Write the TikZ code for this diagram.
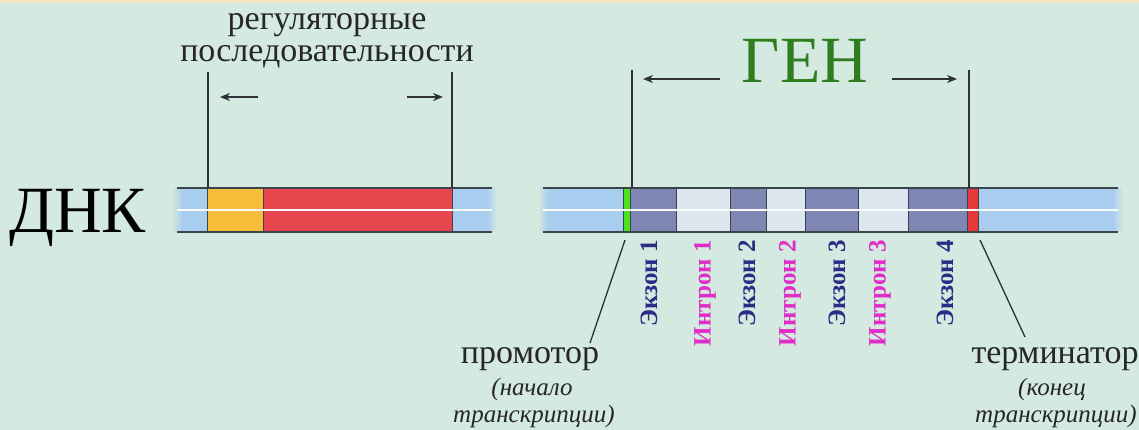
\documentclass[tikz,border=0pt]{standalone}
\usepackage{fontspec}
\setmainfont{Liberation Serif}
\usepackage{xcolor}
\usetikzlibrary{arrows.meta}
\definecolor{bgmint}{HTML}{D4E9DF}
\definecolor{topband}{HTML}{EFE7C6}
\definecolor{ink}{HTML}{2E3236}
\definecolor{edgegray}{HTML}{3C434B}
\definecolor{dnablue}{HTML}{A9CDEE}
\definecolor{regorange}{HTML}{F7BE3C}
\definecolor{regred}{HTML}{E8464E}
\definecolor{exonfill}{HTML}{7E86B4}
\definecolor{intronfill}{HTML}{DDE6EE}
\definecolor{promgreen}{HTML}{4CE21E}
\definecolor{termred}{HTML}{E63A3A}
\definecolor{genegreen}{HTML}{2E7D1E}
\definecolor{exontext}{HTML}{2B2C86}
\definecolor{introntext}{HTML}{E02CC8}
\tikzset{
  mark line/.style={line width=1.3pt,ink},
  span arrow/.style={line width=1.3pt,ink,-{Stealth[length=10pt,width=8pt]}},
  strand edge/.style={line width=2pt,edgegray},
  strand mid/.style={line width=1.6pt,white!95!dnablue},
  seg border/.style={line width=1pt,edgegray},
  big/.style={font=\fontsize{66}{66}\selectfont},
  lbltext/.style={font=\fontsize{34}{34}\selectfont,text=black!85},
  notetext/.style={font=\fontsize{25}{25}\selectfont\itshape,text=black!85},
  parttext/.style={font=\fontsize{25}{25}\selectfont\bfseries,rotate=90,anchor=east,inner sep=0pt}
}
% one block of the strand: left, right, fill colour
\newcommand{\block}[3]{\fill[#3] (#1,188) rectangle (#2,232); \draw[seg border] (#1,188) -- (#1,232) (#2,188) -- (#2,232);}
% rotated label under the gene: name, x, colour, text
\newcommand{\partlbl}[4]{\node[parttext,text=#3] (#1) at (#2,240) {#4};}

\begin{document}
\begin{tikzpicture}[x=1pt,y=-1pt]
\useasboundingbox (0,0) rectangle (1139,430);
\fill[bgmint] (0,0) rectangle (1139,430);
\fill[topband] (0,0) rectangle (1139,3);

% left strand
\fill[dnablue] (177,188) rectangle (492,232);
\shade[left color=bgmint,right color=dnablue] (172,188) rectangle (182,232);
\shade[left color=dnablue,right color=bgmint] (487,188) rectangle (497,232);
\block{207}{263}{regorange}
\block{263}{452}{regred}
\draw[strand mid] (177,210) -- (492,210);
\draw[strand edge] (177,188) -- (492,188) (177,232) -- (492,232);

% right strand
\fill[dnablue] (543,188) rectangle (1118,232);
\shade[left color=bgmint,right color=dnablue] (538,188) rectangle (548,232);
\shade[left color=dnablue,right color=bgmint] (1113,188) rectangle (1123,232);
\block{623}{630}{promgreen}
\block{630}{676}{exonfill}
\block{676}{730}{intronfill}
\block{730}{766}{exonfill}
\block{766}{805}{intronfill}
\block{805}{858}{exonfill}
\block{858}{908}{intronfill}
\block{908}{967}{exonfill}
\block{967}{978}{termred}
\draw[strand mid] (543,210) -- (1118,210);
\draw[strand edge] (543,188) -- (1118,188) (543,232) -- (1118,232);

% texts
\node[big,anchor=base west,inner sep=0pt] (dna) at (9,233) {ДНК};
\node[lbltext,anchor=base] (reg1) at (327,30) {регуляторные};
\node[lbltext,anchor=base] (reg2) at (327,62) {последовательности};
\node[font=\fontsize{66}{66}\selectfont,text=genegreen,anchor=base] (gene) at (805,83) {ГЕН};

% regulatory span
\coordinate (regLtop) at (208,72);
\coordinate (regLbot) at (208,188);
\coordinate (regRtop) at (452,72);
\coordinate (regRbot) at (452,188);
\draw[mark line] (regLtop) -- (regLbot);
\draw[mark line] (regRtop) -- (regRbot);
\coordinate (regLa) at (258,97);
\coordinate (regLb) at (220,97);
\coordinate (regRa) at (407,97);
\coordinate (regRb) at (443,97);
\draw[span arrow] (regLa) -- (regLb);
\draw[span arrow] (regRa) -- (regRb);

% gene span
\coordinate (geneLtop) at (632,70);
\coordinate (geneLbot) at (632,188);
\coordinate (geneRtop) at (969,70);
\coordinate (geneRbot) at (969,188);
\draw[mark line] (geneLtop) -- (geneLbot);
\draw[mark line] (geneRtop) -- (geneRbot);
\coordinate (geneLa) at (720,79);
\coordinate (geneLb) at (643,79);
\coordinate (geneRa) at (892,79);
\coordinate (geneRb) at (957,79);
\draw[span arrow] (geneLa) -- (geneLb);
\draw[span arrow] (geneRa) -- (geneRb);

% exons and introns
\partlbl{ex1}{649}{exontext}{Экзон 1}
\partlbl{in1}{705}{introntext}{Интрон 1}
\partlbl{ex2}{747}{exontext}{Экзон 2}
\partlbl{in2}{790}{introntext}{Интрон 2}
\partlbl{ex3}{837}{exontext}{Экзон 3}
\partlbl{in3}{880}{introntext}{Интрон 3}
\partlbl{ex4}{945}{exontext}{Экзон 4}

% promoter and terminator
\node[lbltext,anchor=base] (prom) at (530,363) {промотор};
\node[notetext,anchor=base] (prom1) at (532,395) {(начало};
\node[notetext,anchor=base] (prom2) at (534,422) {транскрипции)};
\node[lbltext,anchor=base] (term) at (1055,363) {терминатор};
\node[notetext,anchor=base] (term1) at (1052,395) {(конец};
\node[notetext,anchor=base] (term2) at (1056,422) {транскрипции)};
\coordinate (promtop) at (625,240);
\coordinate (promend) at (590,343);
\coordinate (termtop) at (980,240);
\coordinate (termend) at (1025,337);
\draw[mark line] (promtop) -- (promend);
\draw[mark line] (termtop) -- (termend);
\end{tikzpicture}
\end{document}
